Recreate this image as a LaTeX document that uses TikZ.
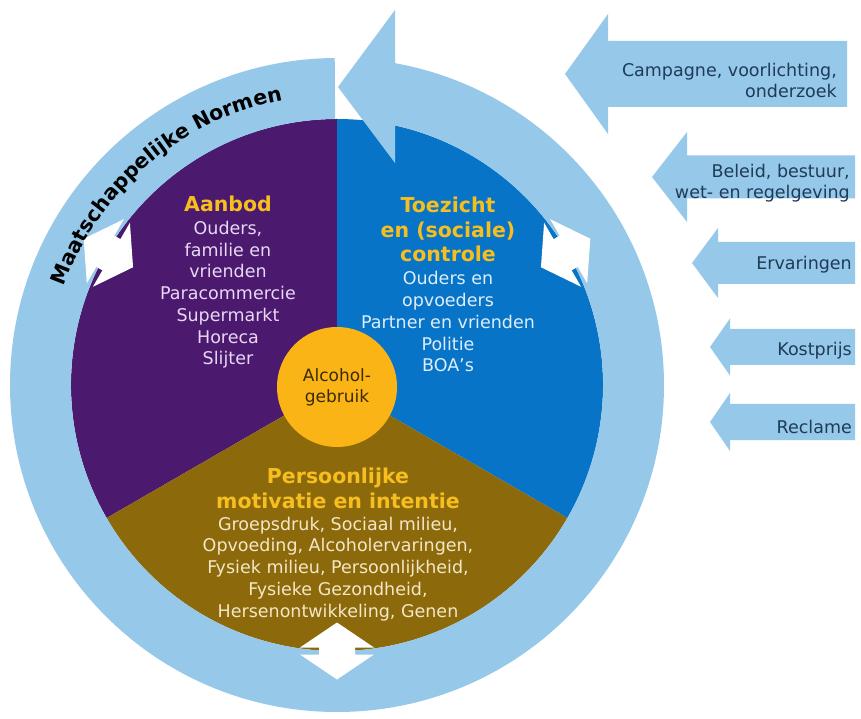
\documentclass[tikz,border=0pt]{standalone}
\usepackage{fontspec}
\setmainfont{DejaVu Sans}
\usetikzlibrary{calc,decorations.text}
\definecolor{ringblue}{HTML}{96C8EA}
\definecolor{purp}{HTML}{4B1A6E}
\definecolor{bluesec}{HTML}{0874C8}
\definecolor{brownsec}{HTML}{8C6A0C}
\definecolor{orangec}{HTML}{FBB415}
\definecolor{yel}{HTML}{F6BE1E}
\definecolor{lilac}{HTML}{E8D8F4}
\definecolor{paleblue}{HTML}{DCEEFB}
\definecolor{cream}{HTML}{F4E7C6}
\definecolor{navy}{HTML}{1F3B57}
\definecolor{darktxt}{HTML}{3A2A0A}
\newcommand\blkarrow[6]{\fill[ringblue] (#1,#2) -- (#3,{#2+#4}) -- (#3,{#2+#5}) -- (#6,{#2+#5}) -- (#6,{#2-#5}) -- (#3,{#2-#5}) -- (#3,{#2-#4}) -- cycle;}
\begin{document}
\begin{tikzpicture}[x=1pt,y=1pt,
  hd/.style={align=center, inner sep=0pt, text=yel, font=\bfseries\fontsize{20.5}{24.5}\selectfont},
  bd/.style={align=center, inner sep=0pt, font=\fontsize{17.5}{21.75}\selectfont},
  rtxt/.style={align=right, inner sep=0pt, text=navy, font=\fontsize{17.5}{21}\selectfont, anchor=base east},
  dblarrow/.pic={\fill[white] (28.5,0) -- (3.5,37) -- (3.5,18) -- (-3.5,18) -- (-3.5,37) -- (-28.5,0) -- (-3.5,-37) -- (-3.5,-18) -- (3.5,-18) -- (3.5,-37) -- cycle;}
]
\useasboundingbox (0,0) rectangle (861,718);
\fill[white] (0,0) rectangle (861,718);
\coordinate (C) at (337,333);
% sectors
\fill[purp] (C) -- ++(90:266) arc[start angle=90,end angle=210,radius=266pt] -- cycle;
\fill[bluesec] (C) -- ++(-30:266) arc[start angle=-30,end angle=90,radius=266pt] -- cycle;
\fill[brownsec] (C) -- ++(210:266) arc[start angle=210,end angle=330,radius=266pt] -- cycle;
% ring
\fill[ringblue] ([shift={(C)}]90.4:327) arc[start angle=90.4,end angle=439.8,radius=327pt]
  -- ([shift={(C)}]437.4:266) arc[start angle=437.4,end angle=90.4,radius=266pt] -- cycle;
% ring arrowhead
\fill[ringblue] (338,631) -- (395,708) -- (395,555) -- cycle;
% right block arrows
\blkarrow{565}{644}{608}{60}{33}{847}
\blkarrow{652}{541}{687}{45}{21.5}{855}
\blkarrow{692}{455}{718}{35}{21}{855}
\blkarrow{710}{371}{730}{28.5}{18}{855}
\blkarrow{710}{296}{730}{29}{18}{855}
\node[rtxt] (r1) at (837,620) {Campagne, voorlichting,\\onderzoek};
\node[rtxt] (r2) at (850,519) {Beleid, bestuur,\\wet- en regelgeving};
\node[rtxt] (r3) at (852,448) {Ervaringen};
\node[rtxt] (r4) at (852,362) {Kostprijs};
\node[rtxt] (r5) at (852,285) {Reclame};
% white double arrows
\pic[rotate=150] (wl) at ([shift={(C)}]150:264) {dblarrow};
\pic[rotate=30] (wr) at ([shift={(C)}]30:264) {dblarrow};
\pic[rotate=270] (wb) at ([shift={(C)}]270:266) {dblarrow};
% centre
\node[circle, fill=orangec, minimum size=120pt, inner sep=0pt, align=center, text=darktxt, font=\fontsize{17}{21}\selectfont] (alc) at (337,331) {Alcohol-\\gebruik};
% sector texts (base = last line)
\node[hd, anchor=base] (h1) at (228,506) {Aanbod};
\node[bd, text=lilac, anchor=base] (b1) at (228,353) {Ouders,\\familie en\\vrienden\\Paracommercie\\Supermarkt\\Horeca\\Slijter};
\node[hd, anchor=base] (h2) at (448,456) {Toezicht\\en (sociale)\\controle};
\node[bd, text=paleblue, anchor=base] (b2) at (448,346) {Ouders en\\opvoeders\\Partner en vrienden\\Politie\\BOA’s};
\node[hd, anchor=base] (h3) at (338,210) {Persoonlijke\\motivatie en intentie};
\node[bd, text=cream, anchor=base] (b3) at (338,101) {Groepsdruk, Sociaal milieu,\\Opvoeding, Alcoholervaringen,\\Fysiek milieu, Persoonlijkheid,\\Fysieke Gezondheid,\\Hersenontwikkeling, Genen};
% ring text
\path[decorate, decoration={text along path, text align=center, text={|\bfseries\fontsize{20.5}{24}\selectfont|Maatschappelijke Normen}}] ([shift={(C)}]172:290) arc[start angle=172, end angle=89, radius=290pt];
\end{tikzpicture}
\end{document}
